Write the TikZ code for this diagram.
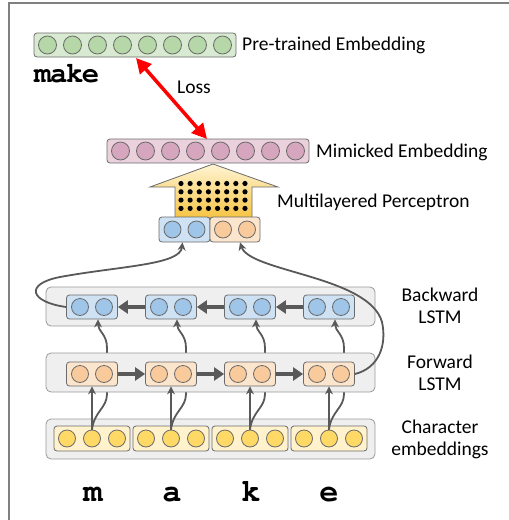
\documentclass[tikz,border=0pt]{standalone}
\usepackage[T1,TU]{fontenc}
\usepackage{fontspec}
\setmainfont{Carlito}
\usetikzlibrary{arrows.meta}
\definecolor{bgray}{HTML}{6B6B6B}
\definecolor{agray}{HTML}{595959}
\definecolor{fgray}{HTML}{999999}
\definecolor{outerfill}{HTML}{EFEFEF}
\definecolor{greenbox}{HTML}{D9EAD3}
\definecolor{greenc}{HTML}{B6D7A8}
\definecolor{pinkbox}{HTML}{EAD1DC}
\definecolor{pinkc}{HTML}{D5A6BD}
\definecolor{bluebox}{HTML}{CFE2F3}
\definecolor{bluec}{HTML}{9FC5E8}
\definecolor{orbox}{HTML}{FCE5CD}
\definecolor{orc}{HTML}{F9CB9C}
\definecolor{yelbox}{HTML}{FFF2CC}
\definecolor{yelc}{HTML}{FFD966}
\definecolor{mlptop}{HTML}{FFF4D4}
\definecolor{mlpbot}{HTML}{F6C443}
\newcommand{\courbold}[1]{\fontencoding{T1}\fontfamily{pcr}\fontseries{b}\fontshape{n}\fontsize{#1}{#1}\selectfont}
\tikzset{
  cellbox/.style={draw=bgray, line width=0.8pt, rounded corners=3pt, minimum width=51pt, minimum height=24pt, inner sep=0pt},
  dotc/.style={circle, draw=bgray, line width=0.8pt, minimum size=17pt, inner sep=0pt},
  outerbox/.style={draw=fgray, line width=0.8pt, fill=outerfill, rounded corners=5pt, minimum width=329pt, minimum height=39pt, inner sep=0pt},
  lab/.style={font=\fontsize{19.5}{22.5}\selectfont, align=center, inner sep=0pt},
  conn/.style={draw=agray, line width=1.8pt, -{Stealth[length=8pt,width=8pt]}},
  hconn/.style={draw=agray, line width=3.5pt, -{Triangle[length=10pt,width=13pt]}},
  framel/.style={draw=gray, line width=1.5pt},
  topmono/.style={font=\courbold{29}, inner sep=0pt},
  botmono/.style={font=\courbold{32}, inner sep=0pt}
}
\begin{document}
\begin{tikzpicture}[x=1pt,y=-1pt]
\useasboundingbox (0,0) rectangle (509,520);
% frame
\coordinate (fr1) at (8,3);
\coordinate (fr2) at (509,3);
\coordinate (fr3) at (9,3);
\coordinate (fr4) at (9,520);
\draw[framel] (fr1) -- (fr2);
\draw[framel] (fr3) -- (fr4);

% outer boxes (back)
\node[outerbox, minimum height=40pt] (chbox) at (210.5,439) {};
\node[outerbox] (bwbox) at (210.5,306.5) {};

% character cells
\foreach \k in {0,1,2,3}{
  \pgfmathsetmacro\c{92+79*\k}
  \node[cellbox, fill=yelbox, minimum width=76pt, minimum height=25pt] (ch\k) at (\c,438.5) {};
  \node[dotc, fill=yelc] (ch\k-1) at (\c-25,438.5) {};
  \node[dotc, fill=yelc] (ch\k-2) at (\c,438.5) {};
  \node[dotc, fill=yelc] (ch\k-3) at (\c+25,438.5) {};
}
% backward cells
\foreach \k in {0,1,2,3}{
  \pgfmathsetmacro\c{92+79*\k}
  \node[cellbox, fill=bluebox] (bw\k) at (\c,307) {};
  \node[dotc, fill=bluec] (bw\k-1) at (\c-12,307) {};
  \node[dotc, fill=bluec] (bw\k-2) at (\c+12,307) {};
}
% curves from characters to backward cells (hidden behind forward box)
\foreach \k in {0,1,2,3}{
  \pgfmathsetmacro\c{92+79*\k}
  \draw[conn] (ch\k-2.north) .. controls +(2,-18) and +(0,14) .. ({\c+15},394) -- ({\c+15},348) .. controls +(0,-14) and +(0,12) .. ([xshift=6pt]bw\k.south);
}
% forward box and cells
\node[outerbox] (fwbox) at (210.5,372.5) {};
\foreach \k in {0,1,2,3}{
  \pgfmathsetmacro\c{92+79*\k}
  \node[cellbox, fill=orbox] (fw\k) at (\c,374) {};
  \node[dotc, fill=orc] (fw\k-1) at (\c-12,374) {};
  \node[dotc, fill=orc] (fw\k-2) at (\c+12,374) {};
}
% straight arrows
\foreach \k in {0,1,2,3}{
  \draw[conn] (ch\k-2.north) -- (fw\k.south -| ch\k-2.north);
}
% horizontal arrows
\draw[hconn] (fw0.east) -- (fw1.west);
\draw[hconn] (fw1.east) -- (fw2.west);
\draw[hconn] (fw2.east) -- (fw3.west);
\draw[hconn] (bw3.west) -- (bw2.east);
\draw[hconn] (bw2.west) -- (bw1.east);
\draw[hconn] (bw1.west) -- (bw0.east);

% MLP arrow shape
\path[draw=bgray, line width=0.8pt, top color=mlptop, bottom color=mlpbot]
  (175,218) -- (175,187) -- (150,187) -- (213,164) -- (278,187) -- (252,187) -- (252,218) -- cycle;
\foreach \i in {0,...,7}{
  \foreach \j in {0,...,3}{
    \fill ({181+9.14*\i},{183.5+8.3*\j}) circle (2.6pt);
  }
}
% concat boxes
\node[cellbox, fill=bluebox, minimum width=51pt, minimum height=25pt] (cb) at (184.5,229.5) {};
\node[dotc, fill=bluec] (cb-1) at (172.5,229.5) {};
\node[dotc, fill=bluec] (cb-2) at (196.5,229.5) {};
\node[cellbox, fill=orbox, minimum width=50pt, minimum height=25pt] (co) at (235,229.5) {};
\node[dotc, fill=orc] (co-1) at (223,229.5) {};
\node[dotc, fill=orc] (co-2) at (247,229.5) {};

% output curves
\draw[conn] (bw0.west) .. controls (30,302) and (24,284) .. (60,277) .. controls (120,266) and (180,265) .. ([xshift=-2pt]cb.south);
\draw[conn] (fw3.east) .. controls (379,368) and (387,345) .. (382,322) .. controls (369,276) and (250,272) .. ([xshift=5pt]co.south);

% mimicked embedding
\node[cellbox, fill=pinkbox, minimum width=202pt, minimum height=24pt] (mim) at (208,151) {};
\foreach \i in {0,...,7}{
  \node[dotc, fill=pinkc, minimum size=18pt] (mim-\i) at ({120.5+25*\i},151) {};
}
% pre-trained embedding
\node[cellbox, fill=greenbox, minimum width=202pt, minimum height=24pt] (pre) at (135,45) {};
\foreach \i in {0,...,7}{
  \node[dotc, fill=greenc, minimum size=18pt] (pre-\i) at ({47.5+25*\i},45) {};
}
% loss
\coordinate (lossA) at (136,58);
\coordinate (lossB) at (207,139);
\draw[draw=red, line width=3.5pt, {Triangle[length=15pt,width=15pt]}-{Triangle[length=15pt,width=15pt]}] (lossA) -- (lossB);
\node[lab] (losslab) at (194,87) {Loss};

% labels
\node[lab, anchor=west] (l1) at (242,45) {Pre-trained Embedding};
\node[lab, anchor=west] (l2) at (316,152) {Mimicked Embedding};
\node[lab, anchor=west] (l3) at (277,202) {Multilayered Perceptron};
\node[lab] (l4) at (440,306) {Backward\\LSTM};
\node[lab] (l5) at (440,373) {Forward\\LSTM};
\node[lab] (l6) at (440,439.5) {Character\\embeddings};
\node[topmono, anchor=base west] (mk) at (34,82) {m\kern-1.5pt a\kern-1.5pt k\kern-1.5pt e};
\node[botmono, anchor=base] (m1) at (93,501) {m};
\node[botmono, anchor=base] (m2) at (172,501) {a};
\node[botmono, anchor=base] (m3) at (251,501) {k};
\node[botmono, anchor=base] (m4) at (329,501) {e};
\end{tikzpicture}
\end{document}
